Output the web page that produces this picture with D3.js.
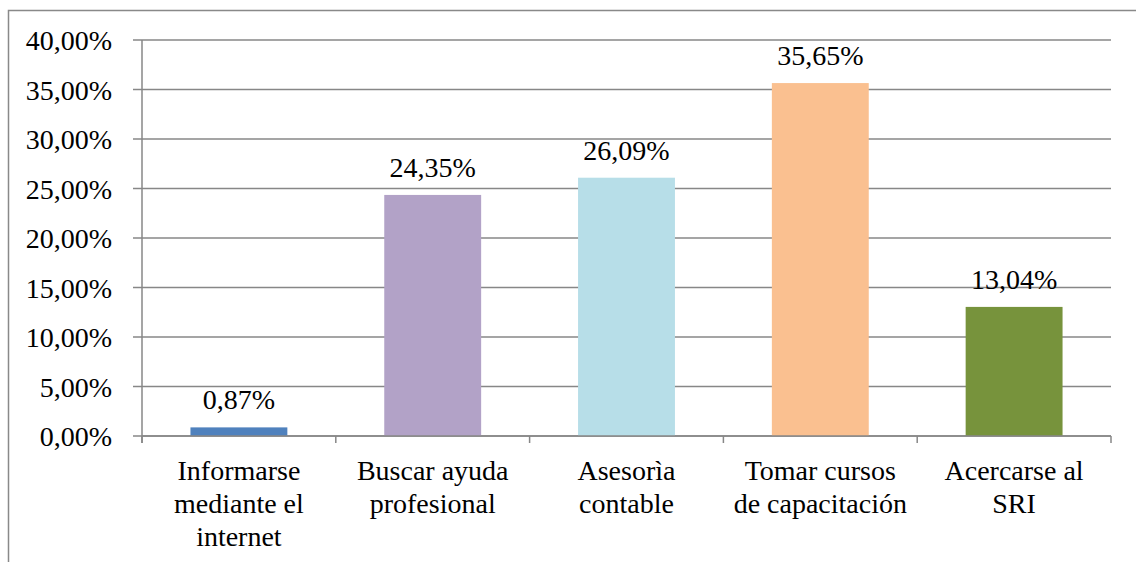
<!DOCTYPE html>
<html>
<head>
<meta charset="utf-8">
<script src="https://cdn.jsdelivr.net/npm/d3@7"></script>
<style>
  body { margin: 0; background: #fff; }
  svg { display: block; }
</style>
</head>
<body>
<svg width="1136" height="562" font-family="Liberation Serif, serif"></svg>
<script>
// chart data
var categories = [
    ['Informarse', 'mediante el', 'internet'],
    ['Buscar ayuda', 'profesional'],
    ['Asesorìa', 'contable'],
    ['Tomar cursos', 'de capacitación'],
    ['Acercarse al', 'SRI']
];
var values = [0.87, 24.35, 26.09, 35.65, 13.04];
var colors = ['#4F81BD', '#B2A2C7', '#B7DEE8', '#FAC090', '#77933C'];
var yTicks = [0, 5, 10, 15, 20, 25, 30, 35, 40];

var fontFamily = 'Liberation Serif, serif';
var fontSize = 28;

var svg = d3.select('svg');
var gridColor = '#878787';

// outer frame, runs off the right and bottom edges
svg.append('rect')
    .attr('x', 8.5).attr('y', 10.5)
    .attr('width', 1200).attr('height', 600)
    .attr('fill', 'none')
    .attr('stroke', '#898989')
    .attr('stroke-width', 1.5);

var plot = {l: 142, r: 1111, t: 40, b: 436};

var x = d3.scaleBand()
    .domain(d3.range(values.length))
    .range([plot.l, plot.r])
    .paddingInner(0.5)
    .paddingOuter(0.25);

var y = d3.scaleLinear()
    .domain([0, 40])
    .range([plot.b, plot.t]);

var fmt = function(v) { return v.toFixed(2).replace('.', ',') + '%'; };

function styleText(sel) {
    sel.attr('font-family', fontFamily)
        .attr('font-size', fontSize)
        .attr('fill', '#000');
}

// gridlines
svg.append('g').selectAll('line')
    .data(yTicks)
    .enter().append('line')
    .attr('x1', plot.l - 9).attr('x2', plot.r)
    .attr('y1', function(d) { return y(d); })
    .attr('y2', function(d) { return y(d); })
    .attr('stroke', gridColor)
    .attr('stroke-width', 1.5);

// y axis line
svg.append('line')
    .attr('x1', plot.l).attr('x2', plot.l)
    .attr('y1', plot.t).attr('y2', plot.b + 7)
    .attr('stroke', gridColor)
    .attr('stroke-width', 1.5);

// y tick labels
svg.append('g').selectAll('text')
    .data(yTicks)
    .enter().append('text')
    .attr('x', 112)
    .attr('y', function(d) { return y(d) + 10; })
    .attr('text-anchor', 'end')
    .call(styleText)
    .text(function(d) { return fmt(d); });

// bars
svg.append('g').selectAll('rect')
    .data(values)
    .enter().append('rect')
    .attr('x', function(d, i) { return x(i); })
    .attr('y', function(d) { return y(d); })
    .attr('width', x.bandwidth())
    .attr('height', function(d) { return y(0) - y(d); })
    .attr('fill', function(d, i) { return colors[i]; });

// x axis line and ticks at category boundaries
svg.append('line')
    .attr('x1', plot.l).attr('x2', plot.r)
    .attr('y1', plot.b).attr('y2', plot.b)
    .attr('stroke', gridColor)
    .attr('stroke-width', 1.5);

svg.append('g').selectAll('line')
    .data(d3.range(values.length + 1))
    .enter().append('line')
    .attr('x1', function(i) { return plot.l + i * (plot.r - plot.l) / values.length; })
    .attr('x2', function(i) { return plot.l + i * (plot.r - plot.l) / values.length; })
    .attr('y1', plot.b).attr('y2', plot.b + 7)
    .attr('stroke', gridColor)
    .attr('stroke-width', 1.5);

// value labels
svg.append('g').selectAll('text')
    .data(values)
    .enter().append('text')
    .attr('x', function(d, i) { return x(i) + x.bandwidth() / 2; })
    .attr('y', function(d) { return y(d) - 18; })
    .attr('text-anchor', 'middle')
    .call(styleText)
    .text(function(d) { return fmt(d); });

// category labels
var catG = svg.append('g').selectAll('text')
    .data(categories)
    .enter().append('text')
    .attr('x', function(d, i) { return x(i) + x.bandwidth() / 2; })
    .attr('y', 480)
    .attr('text-anchor', 'middle')
    .call(styleText);

catG.selectAll('tspan')
    .data(function(d) { return d; })
    .enter().append('tspan')
    .attr('x', function() { return d3.select(this.parentNode).attr('x'); })
    .attr('dy', function(d, i) { return i === 0 ? 0 : 33; })
    .text(function(d) { return d; });
</script>
</body>
</html>
